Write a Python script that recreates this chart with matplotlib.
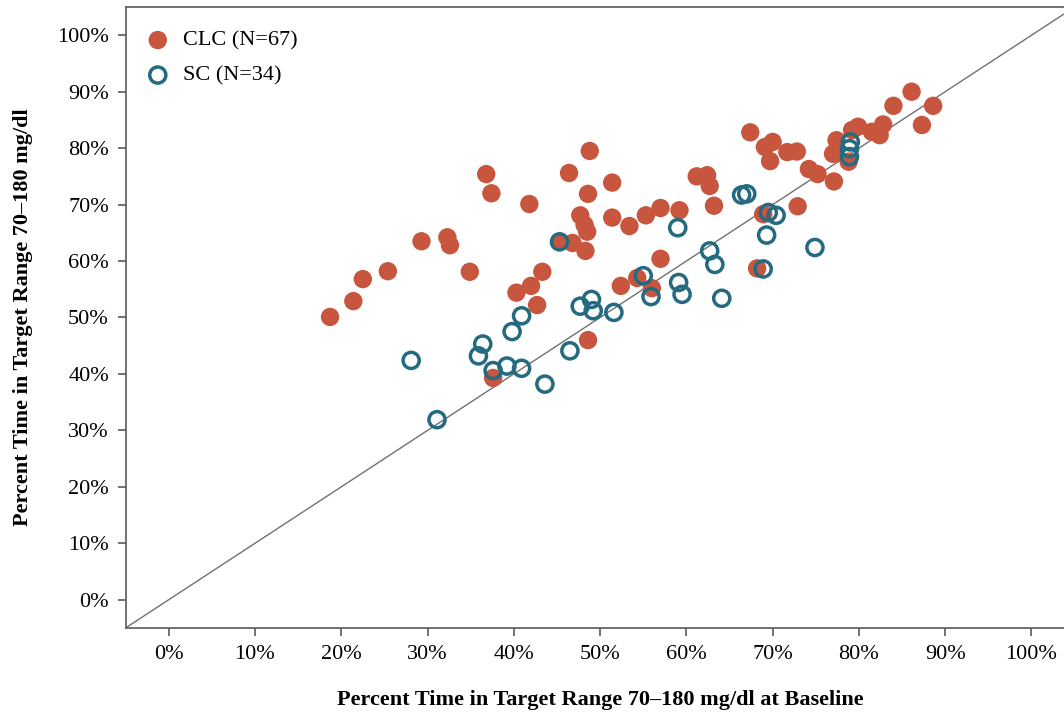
import matplotlib
matplotlib.use("Agg")
import matplotlib.pyplot as plt
from matplotlib.ticker import FuncFormatter

plt.rcParams["font.family"] = ["Liberation Serif", "DejaVu Serif"]

# CLC group: baseline TIR (%) vs follow-up TIR (%)
clc_x = [18.7, 21.4, 22.5, 25.4, 29.3, 32.3, 32.6, 34.9, 36.8, 37.4,
         37.6, 40.3, 41.8, 42.0, 42.7, 43.3, 45.3, 46.8, 48.3, 48.8,
         46.4, 51.4, 48.6, 47.7, 48.2, 48.5, 51.4, 53.4, 55.3, 52.4,
         54.3, 48.6, 57.0, 59.2, 61.2, 62.4, 62.7, 63.2, 57.0, 56.0,
         68.2, 67.4, 69.1, 70.0, 69.7, 71.7, 72.8, 74.2, 75.2, 77.1,
         77.4, 77.0, 79.2, 79.9, 78.8, 81.5, 82.4, 82.8, 84.0, 86.1,
         87.3, 88.6, 68.9, 72.9]
clc_y = [50.1, 52.9, 56.8, 58.2, 63.5, 64.2, 62.8, 58.1, 75.4, 72.0,
         39.3, 54.4, 70.1, 55.6, 52.2, 58.1, 63.4, 63.2, 61.8, 79.5,
         75.6, 73.9, 71.9, 68.1, 66.4, 65.2, 67.7, 66.2, 68.1, 55.6,
         57.0, 46.0, 69.4, 69.0, 75.0, 75.2, 73.3, 69.8, 60.4, 55.2,
         58.7, 82.8, 80.2, 81.1, 77.7, 79.3, 79.4, 76.3, 75.4, 74.1,
         81.4, 79.0, 83.2, 83.8, 77.6, 82.9, 82.3, 84.2, 87.5, 90.0,
         84.1, 87.5, 68.3, 69.7]

# SC group
sc_x = [28.1, 31.1, 35.9, 36.4, 37.6, 39.2, 39.8, 40.9, 40.9, 43.6,
        45.3, 46.5, 47.7, 49.0, 49.2, 51.6, 55.0, 55.9, 59.0, 59.1,
        59.5, 62.7, 63.3, 64.1, 66.4, 67.0, 68.9, 69.3, 69.5, 70.4,
        74.9, 79.0, 78.9, 78.9]
sc_y = [42.4, 31.9, 43.2, 45.3, 40.6, 41.4, 47.5, 50.3, 41.0, 38.2,
        63.4, 44.1, 52.0, 53.2, 51.2, 50.9, 57.4, 53.7, 65.9, 56.2,
        54.1, 61.8, 59.4, 53.4, 71.7, 71.9, 58.6, 64.6, 68.6, 68.1,
        62.4, 81.1, 79.9, 78.5]

ticks = list(range(0, 101, 10))
clc_color = "#C8553D"
sc_color = "#246A80"
axis_grey = "#5a5a5a"

fig = plt.figure(figsize=(10.64, 7.15), dpi=100)
ax = fig.add_axes([0.118, 0.1217, 0.892, 0.8685])

ax.plot([-5, 105], [-5, 105], color="#707070", lw=1.0, zorder=1)
ax.scatter(clc_x, clc_y, s=175, color=clc_color, edgecolors="none",
           label="CLC (N=67)", zorder=2)
ax.scatter(sc_x, sc_y, s=135, facecolors="none", edgecolors=sc_color,
           linewidths=2.5, label="SC (N=34)", zorder=3)

ax.set_xlim(-5, 105)
ax.set_ylim(-5, 105)
ax.set_xticks(ticks)
ax.set_yticks(ticks)
pct = FuncFormatter(lambda v, _: f"{v:.0f}%")
ax.xaxis.set_major_formatter(pct)
ax.yaxis.set_major_formatter(pct)
ax.tick_params(labelsize=16, length=6, width=1.2, color=axis_grey, pad=6)
for sp in ax.spines.values():
    sp.set_color(axis_grey)
    sp.set_linewidth(1.2)

ax.set_xlabel("Percent Time in Target Range 70\u2013180 mg/dl at Baseline",
              fontsize=16, fontweight="bold", labelpad=19)
ax.set_ylabel("Percent Time in Target Range 70\u2013180 mg/dl",
              fontsize=16, fontweight="bold", labelpad=17)

ax.legend(loc="upper left", frameon=False, fontsize=16,
          borderaxespad=0.6, handletextpad=0.72, labelspacing=0.65,
          borderpad=0.45, handlelength=0.8)

fig.savefig("out.png", dpi=100)
plt.close(fig)
